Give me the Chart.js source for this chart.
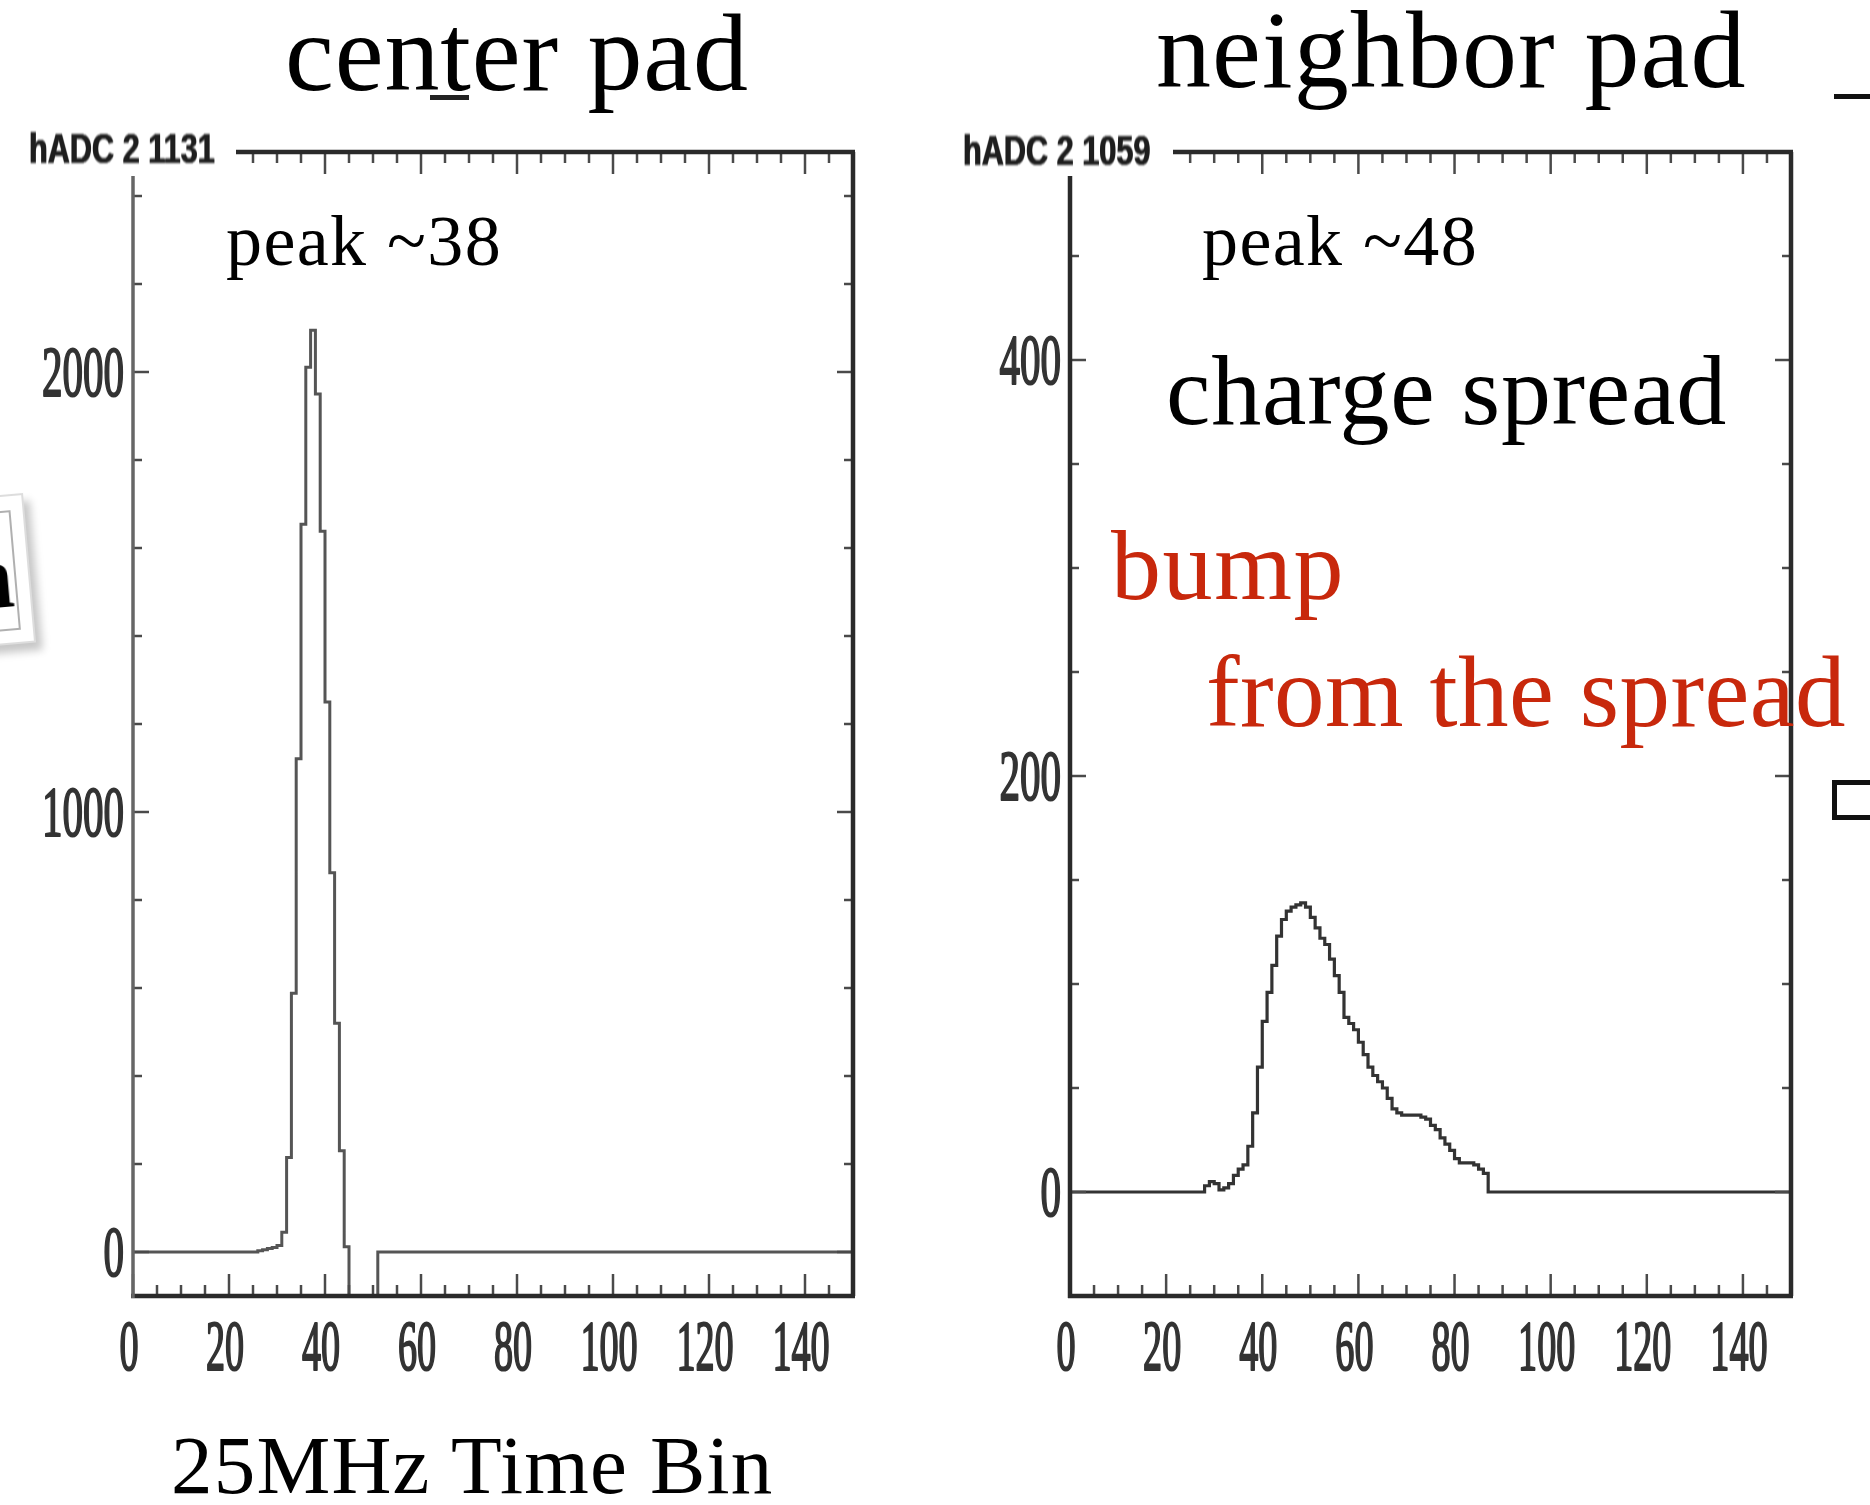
<!DOCTYPE html>
<html>
<head>
<meta charset="utf-8">
<script src="https://cdn.jsdelivr.net/npm/chart.js@4.4.1/dist/chart.umd.min.js"></script>
<style>
html,body{margin:0;padding:0;background:#fff;}
body{width:1870px;height:1505px;position:relative;overflow:hidden;font-family:"Liberation Serif","Times New Roman",serif;}
canvas{position:absolute;top:0;filter:blur(0.7px);}
.t{position:absolute;white-space:nowrap;line-height:1;color:#000;}
.red{color:#c8280c;}
.stat{position:absolute;font-family:"Liberation Sans",Arial,sans-serif;font-weight:bold;font-size:42px;line-height:1;color:#1e1e1e;transform:scaleX(0.73);transform-origin:0 0;white-space:nowrap;filter:blur(0.9px);text-shadow:0.6px 0 0 #1e1e1e,-0.6px 0 0 #1e1e1e;}
.occ{position:absolute;background:#fff;}
</style>
</head>
<body>
<canvas id="left" width="935" height="1505" style="left:0;width:935px;height:1505px"></canvas>
<canvas id="right" width="935" height="1505" style="left:935px;width:935px;height:1505px"></canvas>

<div class="occ" style="left:18px;top:118px;width:218px;height:58px"></div>
<div class="occ" style="left:950px;top:118px;width:223px;height:58px"></div>
<div class="stat" style="left:29px;top:128px">hADC 2 1131</div>
<div class="stat" style="left:963px;top:130px">hADC 2 1059</div>

<div class="t" style="left:285px;top:-2px;font-size:110px;letter-spacing:0.9px">center pad</div>
<div style="position:absolute;left:430px;top:95px;width:39px;height:5px;background:#222"></div>
<div class="t" style="left:1156px;top:-5px;font-size:110px;letter-spacing:1.1px">neighbor pad</div>
<div class="t" style="left:226px;top:205px;font-size:72px;letter-spacing:1.4px">peak ~38</div>
<div class="t" style="left:1202px;top:205px;font-size:72px;letter-spacing:1.4px">peak ~48</div>
<div class="t" style="left:1166px;top:341px;font-size:100px;letter-spacing:0.8px">charge spread</div>
<div class="t red" style="left:1111px;top:516px;font-size:100px;letter-spacing:1.6px">bump</div>
<div class="t red" style="left:1206px;top:642px;font-size:101px;letter-spacing:0.4px">from the spread</div>
<div class="t" style="left:171px;top:1424px;font-size:83px;letter-spacing:1.2px">25MHz Time Bin</div>

<div style="position:absolute;left:-200px;top:493px;width:223px;height:150px;background:#fff;border:2px solid #ddd;box-sizing:border-box;box-shadow:6px 8px 8px rgba(0,0,0,0.22);transform:rotate(-5deg);transform-origin:100% 0;overflow:hidden">
  <div style="position:absolute;left:0;right:12px;top:14px;bottom:12px;border:2px solid #b0b0b0;"></div>
  <div style="position:absolute;right:15px;top:33px;font-family:'Liberation Serif',serif;font-weight:bold;font-size:92px;line-height:1">n</div>
</div>
<div style="position:absolute;left:1834px;top:94px;width:40px;height:5px;background:#111"></div>
<div style="position:absolute;left:1832px;top:780px;width:50px;height:40px;border:5px solid #111;box-sizing:border-box;"></div>

<script>
// ADC counts per 25MHz time bin (150 bins, bins 0..149)
const centerPadADC = [
  0,0,0,0,0,0,0,0,0,0,
  0,0,0,0,0,0,0,0,0,0,
  0,0,0,0,0,0,3,5,8,10,
  15,45,215,588,1121,1654,2011,2095,1950,1638,
  1250,862,520,230,12,-300,-300,-300,-300,-300,
  -300,0,0,0,0,0,0,0,0,0,
  0,0,0,0,0,0,0,0,0,0,
  0,0,0,0,0,0,0,0,0,0,
  0,0,0,0,0,0,0,0,0,0,
  0,0,0,0,0,0,0,0,0,0,
  0,0,0,0,0,0,0,0,0,0,
  0,0,0,0,0,0,0,0,0,0,
  0,0,0,0,0,0,0,0,0,0,
  0,0,0,0,0,0,0,0,0,0,
  0,0,0,0,0,0,0,0,0,0
];
const neighborPadADC = [
  0,0,0,0,0,0,0,0,0,0,
  0,0,0,0,0,0,0,0,0,0,
  0,0,0,0,0,0,0,0,3,5,
  4,1,2,4,8,11,13,22,38,60,
  82,96,109,123,131,135,137,138,139,137,
  132,127,122,119,112,104,96,84,81,78,
  72,66,60,56,53,50,45,40,38,37,
  37,37,37,36,35,32,30,26,23,20,
  16,14,14,14,13,11,9,0,0,0,
  0,0,0,0,0,0,0,0,0,0,
  0,0,0,0,0,0,0,0,0,0,
  0,0,0,0,0,0,0,0,0,0,
  0,0,0,0,0,0,0,0,0,0,
  0,0,0,0,0,0,0,0,0,0,
  0,0,0,0,0,0,0,0,0,0
];
const xTickLabels = ['0','20','40','60','80','100','120','140'];
const centerYTickLabels = ['0','1000','2000'];
const neighborYTickLabels = ['0','200','400'];

function rootFrame(cfg) {
  return {
    id: 'rootFrame',
    afterDatasetsDraw(chart) {
      const ctx = chart.ctx, a = chart.chartArea;
      const xs = chart.scales.x, ys = chart.scales.y;
      const seg = (x1,y1,x2,y2) => { ctx.beginPath(); ctx.moveTo(x1,y1); ctx.lineTo(x2,y2); ctx.stroke(); };
      ctx.save();
      ctx.lineCap = 'butt';
      ctx.strokeStyle = '#4a4a4a';
      ctx.lineWidth = 2.5;
      for (let i = 0; i * cfg.xMinor <= xs.max; i++) {
        const v = i * cfg.xMinor;
        const px = xs.getPixelForValue(v);
        const len = (v % cfg.xMajor === 0) ? 22 : 11;
        seg(px, a.bottom, px, a.bottom - len);
        seg(px, a.top, px, a.top + len);
      }
      const k0 = Math.ceil(ys.min / cfg.yMinor);
      for (let k = k0; k * cfg.yMinor <= ys.max; k++) {
        const v = k * cfg.yMinor;
        const py = ys.getPixelForValue(v);
        const len = (v % cfg.yMajor === 0) ? 16 : 9;
        seg(a.left, py, a.left + len, py);
        seg(a.right, py, a.right - len, py);
      }
      ctx.strokeStyle = '#2a2a2a';
      ctx.lineWidth = 4.5;
      seg(a.left - 2, a.top, a.right + 2, a.top);
      seg(a.left - 2, a.bottom, a.right + 2, a.bottom);
      seg(a.right, a.top, a.right, a.bottom);
      ctx.strokeStyle = cfg.leftColor;
      ctx.lineWidth = cfg.leftWidth;
      seg(a.left, a.top, a.left, a.bottom + 2);

      ctx.fillStyle = '#333';
      ctx.strokeStyle = '#333';
      ctx.lineWidth = 2.2;
      ctx.lineJoin = 'round';
      ctx.font = '72px "Liberation Serif"';
      ctx.textBaseline = 'alphabetic';
      cfg.xLabels.forEach(l => {
        const px = xs.getPixelForValue(Number(l));
        ctx.save(); ctx.translate(px - 4, a.bottom + 74); ctx.scale(0.53, 1);
        ctx.textAlign = 'center'; ctx.fillText(l, 0, 0); ctx.strokeText(l, 0, 0); ctx.restore();
      });
      cfg.yLabels.forEach(l => {
        const py = ys.getPixelForValue(Number(l));
        ctx.save(); ctx.translate(a.left - 9, py + 24); ctx.scale(0.57, 1);
        ctx.textAlign = 'right'; ctx.fillText(l, 0, 0); ctx.strokeText(l, 0, 0); ctx.restore();
      });
      ctx.restore();
    }
  };
}

function makeChart(id, values, yMin, yMax, pad, color, width, frameCfg) {
  const pts = values.map((v, i) => ({x: i, y: v}));
  pts.push({x: values.length, y: values[values.length - 1]});
  return new Chart(document.getElementById(id), {
    type: 'line',
    data: { datasets: [{ data: pts, stepped: true, borderColor: color, borderWidth: width,
                         pointRadius: 0, fill: false, tension: 0 }] },
    options: {
      responsive: false, animation: false, devicePixelRatio: 1, events: [],
      layout: { padding: pad },
      scales: {
        x: { type: 'linear', min: 0, max: 150, display: false },
        y: { type: 'linear', min: yMin, max: yMax, display: false }
      },
      plugins: { legend: { display: false }, tooltip: { enabled: false } }
    },
    plugins: [rootFrame(frameCfg)]
  });
}

function draw() {
  makeChart('left', centerPadADC, -100, 2500,
    {left: 133, right: 82, top: 152, bottom: 209}, '#555', 3,
    {xMinor: 5, xMajor: 20, yMinor: 200, yMajor: 1000, xLabels: xTickLabels,
     yLabels: centerYTickLabels, leftColor: '#666', leftWidth: 3.5});
  makeChart('right', neighborPadADC, -50, 500,
    {left: 135, right: 79, top: 152, bottom: 209}, '#333', 3.2,
    {xMinor: 5, xMajor: 20, yMinor: 50, yMajor: 200, xLabels: xTickLabels,
     yLabels: neighborYTickLabels, leftColor: '#2a2a2a', leftWidth: 4.5});
}
if (document.fonts && document.fonts.ready) { document.fonts.ready.then(draw); } else { draw(); }
</script>
</body>
</html>
